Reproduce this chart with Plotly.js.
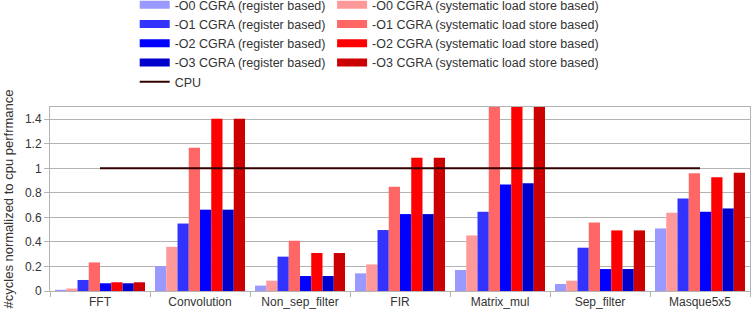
<!DOCTYPE html>
<html><head><meta charset="utf-8">
<script src="https://cdn.plot.ly/plotly-3.0.1.min.js"></script>
<style>html,body{margin:0;padding:0;background:#fff}#chart{width:756px;height:318px}</style>
</head><body><div id="chart"></div>
<script>
const categories = ["FFT","Convolution","Non_sep_filter","FIR","Matrix_mul","Sep_filter","Masque5x5"];
const o0Reg = [0.01, 0.203, 0.044, 0.144, 0.171, 0.057, 0.51];
const o0Sys = [0.02, 0.36, 0.084, 0.217, 0.453, 0.084, 0.638];
const o1Reg = [0.09, 0.55, 0.28, 0.497, 0.646, 0.353, 0.754];
const o1Sys = [0.233, 1.167, 0.41, 0.85, 1.75, 0.558, 0.96];
const o2Reg = [0.063, 0.663, 0.122, 0.627, 0.868, 0.179, 0.646];
const o2Sys = [0.071, 1.405, 0.31, 1.087, 2.0, 0.494, 0.928];
const o3Reg = [0.063, 0.663, 0.122, 0.627, 0.879, 0.179, 0.673];
const o3Sys = [0.071, 1.405, 0.31, 1.087, 2.0, 0.494, 0.965];
const cpu = [1, 1, 1, 1, 1, 1, 1];

const barSeries = [
  {name: "-O0 CGRA (register based)", y: o0Reg, color: "#9999ff", legend: "legend"},
  {name: "-O0 CGRA (systematic load store based)", y: o0Sys, color: "#ff9999", legend: "legend2"},
  {name: "-O1 CGRA (register based)", y: o1Reg, color: "#3333ff", legend: "legend"},
  {name: "-O1 CGRA (systematic load store based)", y: o1Sys, color: "#ff6666", legend: "legend2"},
  {name: "-O2 CGRA (register based)", y: o2Reg, color: "#0000ff", legend: "legend"},
  {name: "-O2 CGRA (systematic load store based)", y: o2Sys, color: "#ff0000", legend: "legend2"},
  {name: "-O3 CGRA (register based)", y: o3Reg, color: "#0000cc", legend: "legend"},
  {name: "-O3 CGRA (systematic load store based)", y: o3Sys, color: "#cc0000", legend: "legend2"}
];

const traces = [];
barSeries.forEach(s => {
  traces.push({type: "bar", x: categories, y: s.y, name: s.name, showlegend: false,
    marker: {color: s.color, line: {width: 0}}});
});
// legend swatches (wide rectangles like the reference)
barSeries.forEach(s => {
  traces.push({type: "scatter", mode: "lines", x: [null], y: [null], name: s.name,
    legend: s.legend, line: {color: s.color, width: 8}, hoverinfo: "skip"});
});
traces.push({type: "scatter", mode: "lines", x: categories, y: cpu, name: "CPU",
  legend: "legend", line: {color: "#330000", width: 2}});

const legendBase = {xanchor: "left", yanchor: "top", y: 1.635, font: {size: 12.5, color: "#333"},
  bgcolor: "rgba(0,0,0,0)", tracegroupgap: 0, traceorder: "normal"};

const layout = {
  width: 756, height: 318,
  margin: {l: 50, r: 6, t: 107, b: 27, autoexpand: false},
  paper_bgcolor: "#fff", plot_bgcolor: "#fff",
  font: {family: '"Liberation Sans", Arial, sans-serif', color: "#333"},
  barmode: "group", bargap: 0.1, bargroupgap: 0,
  xaxis: {type: "category", tickson: "boundaries", ticks: "outside", ticklen: 5, tickcolor: "#b3b3b3",
    showline: true, linecolor: "#b3b3b3", mirror: true, showgrid: false, tickfont: {size: 12, color: "#333"}},
  yaxis: {range: [0, 1.5], tick0: 0, dtick: 0.2, ticks: "outside", ticklen: 5, tickcolor: "#b3b3b3",
    showline: true, linecolor: "#b3b3b3", mirror: true, gridcolor: "#b3b3b3", zeroline: false,
    tickfont: {size: 12, color: "#333"},
    title: {text: "#cycles normalized to cpu perfrmance", font: {size: 13, color: "#333"}, standoff: 8}},
  legend: Object.assign({}, legendBase, {x: 0.121}),
  legend2: Object.assign({}, legendBase, {x: 0.403}),
  showlegend: true
};

Plotly.newPlot("chart", traces, layout, {displayModeBar: false, staticPlot: true});
</script>
</body></html>
